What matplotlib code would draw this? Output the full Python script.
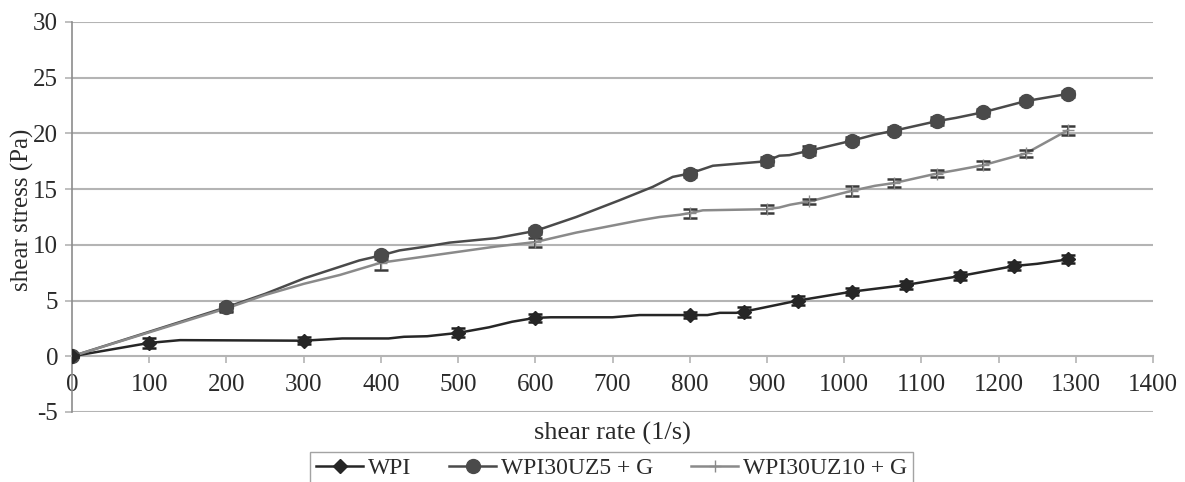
import matplotlib
matplotlib.use("Agg")
import matplotlib.pyplot as plt
from matplotlib.lines import Line2D

plt.rcParams['font.family'] = ['Liberation Serif', 'DejaVu Serif']

# ---- data ----
series_names = ["WPI", "WPI30UZ5 + G", "WPI30UZ10 + G"]

# WPI
wpi_line_x = [0, 100, 140, 300, 350, 410, 430, 460, 500, 540, 570, 600, 620, 700, 735, 800, 823, 839, 860, 870,
              940, 1010, 1080, 1110, 1150, 1220, 1250, 1290]
wpi_line_y = [0, 1.2, 1.45, 1.4, 1.6, 1.6, 1.75, 1.8, 2.1, 2.6, 3.1, 3.45, 3.5, 3.5, 3.7, 3.7, 3.7, 3.9, 3.9, 4.0,
              5.0, 5.8, 6.4, 6.75, 7.2, 8.1, 8.3, 8.7]
wpi_mx = [0, 100, 300, 500, 600, 800, 870, 940, 1010, 1080, 1150, 1220, 1290]
wpi_my = [0, 1.2, 1.4, 2.1, 3.45, 3.7, 4.0, 5.0, 5.8, 6.4, 7.2, 8.1, 8.7]
wpi_err = [0.1, 0.45, 0.3, 0.4, 0.35, 0.25, 0.45, 0.4, 0.3, 0.35, 0.35, 0.35, 0.35]

# WPI30UZ5 + G
uz5_line_x = [0, 200, 250, 301, 372, 400, 424, 454, 489, 549, 600, 653, 709, 752, 778, 800, 830, 899, 916, 929,
              955, 1010, 1040, 1065, 1120, 1145, 1180, 1235, 1290]
uz5_line_y = [0, 4.4, 5.6, 7.0, 8.6, 9.05, 9.5, 9.8, 10.2, 10.6, 11.25, 12.5, 14.0, 15.2, 16.1, 16.4, 17.1, 17.5,
              18.0, 18.05, 18.45, 19.35, 19.9, 20.25, 21.1, 21.4, 21.9, 22.9, 23.55]
uz5_mx = [0, 200, 400, 600, 800, 900, 955, 1010, 1065, 1120, 1180, 1235, 1290]
uz5_my = [0, 4.4, 9.05, 11.25, 16.4, 17.5, 18.45, 19.35, 20.25, 21.1, 21.9, 22.9, 23.55]
uz5_err = [0.1, 0.3, 0.3, 0.3, 0.3, 0.35, 0.4, 0.3, 0.3, 0.35, 0.3, 0.3, 0.3]

# WPI30UZ10 + G
uz10_line_x = [0, 200, 250, 300, 347, 400, 549, 600, 653, 735, 761, 787, 800, 817, 899, 916, 930, 955, 1010,
               1040, 1065, 1120, 1145, 1180, 1235, 1290]
uz10_line_y = [0, 4.3, 5.5, 6.5, 7.3, 8.4, 9.85, 10.25, 11.1, 12.2, 12.5, 12.7, 12.85, 13.1, 13.2, 13.35, 13.6,
               13.9, 14.85, 15.3, 15.55, 16.4, 16.7, 17.15, 18.2, 20.3]
uz10_mx = [0, 200, 400, 600, 800, 900, 955, 1010, 1065, 1120, 1180, 1235, 1290]
uz10_my = [0, 4.3, 8.4, 10.25, 12.85, 13.2, 13.9, 14.85, 15.55, 16.4, 17.15, 18.2, 20.3]
uz10_err = [0.1, 0.35, 0.65, 0.4, 0.4, 0.35, 0.25, 0.45, 0.35, 0.35, 0.35, 0.3, 0.4]

x_ticks = list(range(0, 1401, 100))
y_ticks = list(range(-5, 31, 5))

# ---- figure ----
W, H = 1185, 482
fig = plt.figure(figsize=(W / 100, H / 100), dpi=100)
ax = fig.add_axes([72 / W, 1 - 412 / H, (1153 - 72) / W, (412 - 22) / H])

grid_c = "#b4b4b4"
text_c = "#2a2a2a"
for v in y_ticks:
    if v != 0:
        ax.axhline(v, color=grid_c, lw=1.5, zorder=0)

c_wpi, c_uz5, c_uz10 = "#262626", "#4a4a4a", "#8a8a8a"

# lines
ax.plot(wpi_line_x, wpi_line_y, color=c_wpi, lw=1.8, zorder=3)
ax.plot(uz5_line_x, uz5_line_y, color=c_uz5, lw=1.8, zorder=3)
ax.plot(uz10_line_x, uz10_line_y, color=c_uz10, lw=1.8, zorder=3)

# markers + error bars
ax.errorbar(uz10_mx, uz10_my, yerr=uz10_err, fmt='+', color=c_uz10, ecolor="#3a3a3a", elinewidth=1.3,
            capsize=5, capthick=1.8, markersize=8, zorder=4)
ax.errorbar(uz5_mx, uz5_my, yerr=uz5_err, fmt='o', color=c_uz5, ecolor="#2e2e2e", elinewidth=1.3,
            capsize=5, capthick=1.8, markersize=10, zorder=5)
ax.errorbar(wpi_mx, wpi_my, yerr=wpi_err, fmt='D', color=c_wpi, ecolor="#1e1e1e", elinewidth=1.3,
            capsize=5, capthick=1.8, markersize=7, zorder=6)

ax.set_xlim(0, 1400)
ax.set_ylim(-5, 30)
ax.set_xticks(x_ticks)
ax.set_yticks(y_ticks)
ax.set_xticklabels([str(t) for t in x_ticks])
ax.set_yticklabels([str(t) for t in y_ticks])

for s in ["top", "right"]:
    ax.spines[s].set_visible(False)
ax.spines["left"].set_color("#8c8c8c")
ax.spines["left"].set_linewidth(1.2)
ax.spines["bottom"].set_position(('data', 0))
ax.spines["bottom"].set_color(grid_c)
ax.spines["bottom"].set_linewidth(1.5)

ax.tick_params(axis='y', length=5, width=1.2, color=grid_c, labelsize=18, labelcolor=text_c, pad=5)
ax.tick_params(axis='x', length=5, width=1.2, color=grid_c, labelsize=18, labelcolor=text_c, pad=8)

fig.text(22 / W, 1 - 210 / H, "shear stress (Pa)", ha='center', va='center', rotation=90,
         fontsize=18, color=text_c)
fig.text(612 / W, 1 - 433 / H, "shear rate (1/s)", ha='center', va='center', fontsize=19, color=text_c)

handles = [
    Line2D([], [], color=c_wpi, lw=1.8, marker='D', markersize=7),
    Line2D([], [], color=c_uz5, lw=1.8, marker='o', markersize=10),
    Line2D([], [], color=c_uz10, lw=1.8, marker='+', markersize=9),
]
leg = fig.legend(handles, series_names, loc='upper center', bbox_to_anchor=(611.5 / W, 1 - 452 / H),
                 ncol=3, frameon=True, fontsize=17, handlelength=2.0, columnspacing=1.6,
                 handletextpad=0.2, borderpad=0.25, borderaxespad=0, fancybox=False)
leg.get_frame().set_edgecolor("#8c8c8c")
leg.get_frame().set_linewidth(1.0)
for t in leg.get_texts():
    t.set_color(text_c)

fig.savefig("out.png", dpi=100)
